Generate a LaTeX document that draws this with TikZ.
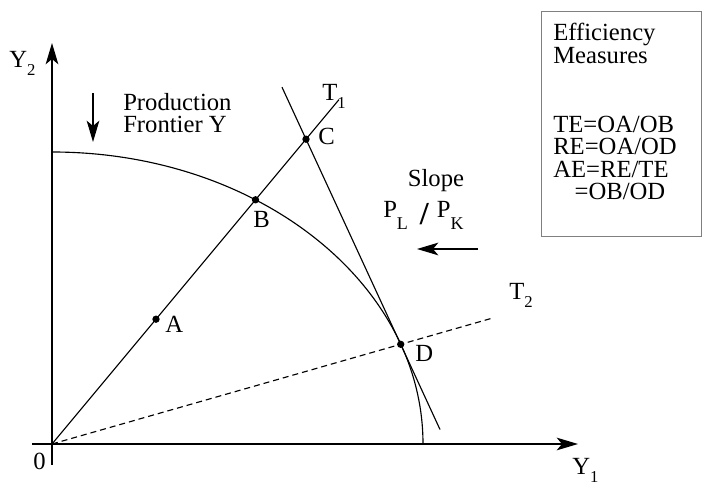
\documentclass[tikz,border=0pt]{standalone}
\usepackage{fontspec}
\setmainfont{Liberation Serif}
\usetikzlibrary{arrows.meta,positioning}
\newcommand{\lowsub}[1]{\raisebox{-6pt}{\fontsize{12.5}{12.5}\selectfont#1}}
\newcommand{\pricesub}[1]{\raisebox{-9pt}{\fontsize{13.5}{13.5}\selectfont#1}}
\begin{document}
\begin{tikzpicture}[
  x=0.75pt,y=0.75pt,>={Stealth[length=16pt,width=9.5pt,inset=4pt]},
  every node/.style={font=\fontsize{18.5}{16.9}\selectfont,inner sep=0pt},
  graphline/.style={line width=0.85pt},
  axisline/.style={line width=0.95pt,->},
  ptdot/.style={circle,fill=black,inner sep=0pt,minimum size=5.5pt},
  letter/.style={anchor=base west}
]
\useasboundingbox (-52,-44) rectangle (650,444);
% axes
\coordinate (O) at (0,0);
\coordinate (ybot) at (0,-21);
\coordinate (ytip) at (0,401);
\coordinate (xbeg) at (-20,0);
\coordinate (xtip) at (526,0);
\draw[axisline] (ybot) -- (ytip);
\draw[axisline] (xbeg) -- (xtip);
\node[letter] (ylab2) at (-43,376) {Y\lowsub{2}};
\node[letter] (ylab1) at (520,-31) {Y\lowsub{1}};
\node[letter] (orig) at (-19,-26) {0};
% frontier
\coordinate (Ftop) at (0,292);
\draw[graphline] (Ftop) arc[start angle=90,end angle=0,x radius=371,y radius=292];
% points and lines
\coordinate (A) at (104,124.8);
\coordinate (B) at (203.5,244.2);
\coordinate (C) at (254,304.8);
\coordinate (D) at (348.7,99.7);
\coordinate (T1end) at (287,344.4);
\coordinate (T2end) at (440,125.8);
\coordinate (tanTop) at (230,356.8);
\coordinate (tanBot) at (388,14.5);
\draw[graphline] (O) -- (T1end);
\draw[graphline] (tanTop) -- (tanBot);
\draw[graphline,dash pattern=on 4.5pt off 3pt] (O) -- (T2end);
\foreach \p in {A,B,C,D} \node[ptdot] at (\p) {};
\node[letter] (labA) at (113,111) {A};
\node[letter] (labB) at (201,216) {B};
\node[letter] (labC) at (266,299) {C};
\node[letter] (labD) at (363,82) {D};
\node[letter] (labT1) at (270,343) {T\lowsub{1}};
\node[letter] (labT2) at (457,144) {T\lowsub{2}};
% frontier label
\coordinate (prodTail) at (41,351);
\coordinate (prodTip) at (41,302);
\draw[->,graphline] (prodTail) -- (prodTip);
\node[anchor=north west,align=left] (prod) at (71,351) {Production\\Frontier Y};
% price ratio
\node[anchor=base] (slope) at (384,257) {Slope};
\node[letter] (price) at (331,226) {P\pricesub{L}\hspace{9pt}\raisebox{-5pt}{\fontsize{24}{24}\selectfont\bfseries/}\hspace{6pt}P\pricesub{K}};
\coordinate (slopeTail) at (426,195);
\coordinate (slopeTip) at (365,195);
\draw[->,graphline] (slopeTail) -- (slopeTip);
% measures box
\draw[black!50,line width=0.75pt] (489,432) rectangle (649,207);
\node[anchor=north west,align=left] (measures) at (501,421)
  {Efficiency\\Measures\\[35pt]TE=OA/OB\\RE=OA/OD\\AE=RE/TE\\\hspace{16pt}=OB/OD};
\end{tikzpicture}
\end{document}
